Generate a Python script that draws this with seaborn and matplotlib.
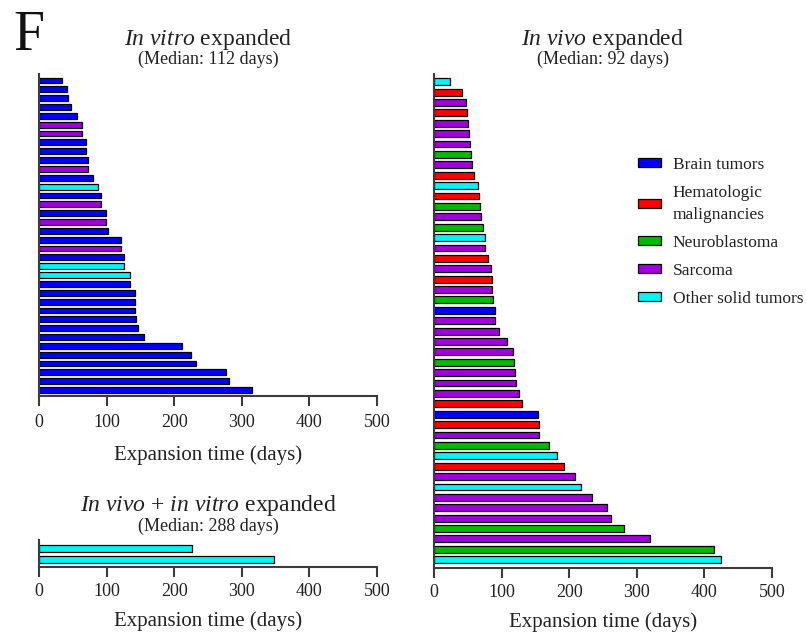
import matplotlib
matplotlib.use("Agg")
import matplotlib.pyplot as plt
from matplotlib.patches import Patch
import seaborn as sns
import pandas as pd

# ---------------- data ----------------
categories = ["Brain tumors", "Hematologic\nmalignancies", "Neuroblastoma",
              "Sarcoma", "Other solid tumors"]
cat_colors = ["#0000FF", "#FF0000", "#00BB00", "#A000DD", "#00F5F5"]

# In vitro expanded (top to bottom)
vitro_days = [33.5, 41, 43, 47, 56, 63, 63, 70, 70, 72, 72, 80, 88, 91, 91, 99, 99,
              102, 121, 122, 125, 126, 134, 135, 142.5, 142.5, 142.5, 143.5, 147,
              156, 211.5, 225, 232, 276.5, 281.5, 314.5]
vitro_cat = ["B", "B", "B", "B", "B", "S", "S", "B", "B", "B", "S", "B", "O", "B",
             "S", "B", "S", "B", "B", "S", "B", "O", "O", "B", "B", "B", "B", "B",
             "B", "B", "B", "B", "B", "B", "B", "B"]

# In vivo expanded (top to bottom)
vivo_days = [23.7, 41, 47.8, 49, 50.8, 51.8, 52.8, 54.7, 55.7, 59.7, 65, 66.6, 68.6,
             70, 73, 75.5, 75.5, 79.9, 84.8, 85.8, 85.8, 86.8, 89.8, 90.7, 96.7,
             108.5, 116.9, 117.9, 120.3, 121.8, 126.3, 129.7, 154.4, 155.4, 155.9,
             170.7, 182, 191.9, 208.1, 217.5, 233.8, 256, 261.9, 281.6, 320, 414.8,
             424.7]
vivo_cat = ["O", "H", "S", "H", "S", "S", "S", "N", "S", "H", "O", "H", "N", "S",
            "N", "O", "S", "H", "S", "H", "S", "N", "B", "S", "S", "S", "S", "N",
            "S", "S", "S", "H", "B", "H", "S", "N", "O", "H", "S", "O", "S", "S",
            "S", "N", "S", "N", "O"]

# In vivo + in vitro expanded
both_days = [226.6, 347.8]
both_cat = ["O", "O"]

cat_codes = ["B", "H", "N", "S", "O"]
palette = dict(zip(cat_codes, cat_colors))

xticks = [0, 100, 200, 300, 400, 500]

# ---------------- style ----------------
sns.set_style("ticks")
plt.rcParams["font.family"] = ["Liberation Serif", "DejaVu Serif"]
plt.rcParams["mathtext.fontset"] = "custom"
plt.rcParams["mathtext.rm"] = "Liberation Serif"
plt.rcParams["mathtext.it"] = "Liberation Serif:italic"

W, H = 806, 636
fig = plt.figure(figsize=(W / 100, H / 100), dpi=100)


def px_axes(x0, y0, x1, y1):
    return fig.add_axes([x0 / W, 1 - y1 / H, (x1 - x0) / W, (y1 - y0) / H])


SPINE = "#3c3c3c"


def draw(ax, days, cats, top_gap, bot_gap, pad, labelpad):
    n = len(days)
    df = pd.DataFrame({"days": days, "row": [str(i) for i in range(n)], "cat": cats})
    sns.barplot(data=df, x="days", y="row", hue="cat", palette=palette,
                order=df["row"].tolist(), orient="h", dodge=False, width=0.66,
                saturation=1, edgecolor="black", linewidth=0.9, legend=False, ax=ax)
    ax.set_xlim(0, 500)
    ax.set_ylim(n - 1 + bot_gap, -top_gap)
    ax.set_yticks([])
    ax.set_ylabel("")
    ax.set_xticks(xticks)
    ax.set_xticklabels([str(t) for t in xticks], fontsize=13)
    ax.tick_params(axis="x", length=7, width=1.5, color=SPINE, pad=pad,
                   labelcolor="#222222")
    ax.set_xlabel("Expansion time (days)", fontsize=15, labelpad=labelpad,
                  color="#222222")
    for s in ["top", "right"]:
        ax.spines[s].set_visible(False)
    for s in ["left", "bottom"]:
        ax.spines[s].set_color(SPINE)
        ax.spines[s].set_linewidth(1.5)


ax1 = px_axes(39, 73.7, 377, 395.7)
draw(ax1, vitro_days, vitro_cat, 0.77, 0.64, 6.5, 10)

ax2 = px_axes(434, 73.7, 772, 567.7)
draw(ax2, vivo_days, vivo_cat, 0.77, 0.77, 5, 8)

ax3 = px_axes(39, 540, 377, 566.7)
draw(ax3, both_days, both_cat, 0.78, 0.65, 5, 8)

# titles
TT = 17
ST = 13
fig.text(208 / W, 1 - 45 / H, r"$\mathit{In\ vitro}$ expanded", ha="center",
         va="baseline", fontsize=TT, color="#222222")
fig.text(208 / W, 1 - 64 / H, "(Median: 112 days)", ha="center", va="baseline",
         fontsize=ST, color="#222222")
fig.text(603 / W, 1 - 45 / H, r"$\mathit{In\ vivo}$ expanded", ha="center",
         va="baseline", fontsize=TT, color="#222222")
fig.text(603 / W, 1 - 64 / H, "(Median: 92 days)", ha="center", va="baseline",
         fontsize=ST, color="#222222")
fig.text(208 / W, 1 - 511 / H, r"$\mathit{In\ vivo}$ + $\mathit{in\ vitro}$ expanded",
         ha="center", va="baseline", fontsize=TT, color="#222222")
fig.text(208 / W, 1 - 531 / H, "(Median: 288 days)", ha="center", va="baseline",
         fontsize=ST, color="#222222")
fig.text(13 / W, 1 - 50 / H, "F", ha="left", va="baseline", fontsize=40,
         color="#111111")

# legend
handles = [Patch(facecolor=c, edgecolor="black", linewidth=0.9) for c in cat_colors]
leg = fig.legend(handles, categories, loc="upper left",
                 bbox_to_anchor=(638 / W, 1 - 157 / H), bbox_transform=fig.transFigure,
                 frameon=False, fontsize=12.5, handlelength=1.3, handleheight=0.45,
                 handletextpad=0.7, labelspacing=0.7, borderpad=0, borderaxespad=0)
for t in leg.get_texts():
    t.set_linespacing(1.45)
    t.set_color("#222222")

fig.savefig("out.png", dpi=100)
